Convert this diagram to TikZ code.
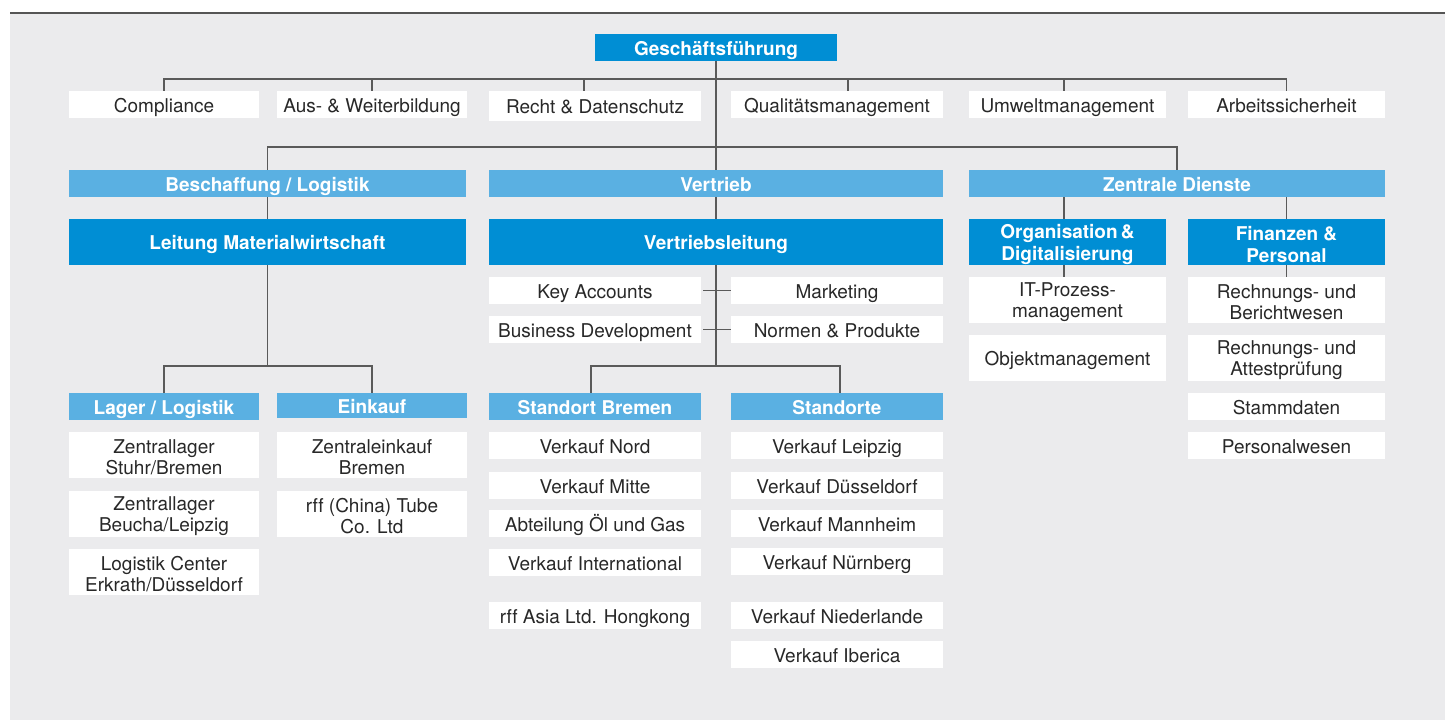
\documentclass[tikz,border=0pt]{standalone}
\usepackage{fontspec}
\setmainfont[Ligatures=NoCommon]{TeX Gyre Heros}
\usetikzlibrary{calc}
\definecolor{bgcol}{RGB}{235,235,237}
\definecolor{rulecol}{RGB}{85,85,85}
\definecolor{linecol}{RGB}{90,90,90}
\definecolor{darkblue}{RGB}{0,142,212}
\definecolor{lightblue}{RGB}{90,176,226}
\definecolor{txtcol}{RGB}{40,40,40}
\pgfdeclarelayer{bglayer}
\pgfdeclarelayer{linelayer}
\pgfsetlayers{bglayer,linelayer,main}
\newcommand\orgbox[7]{%
  \pgfmathsetmacro\mybw{(#4-#2)*0.5}%
  \pgfmathsetmacro\mybh{(#5-#3)*0.5}%
  \node[#6, minimum width=\mybw pt, minimum height=\mybh pt] (#1) at ({(#2+#4)/2},{(#3+#5)/2}) {#7};}
\newcommand\firststrut{\rule{0pt}{9.3pt}}
\begin{document}
\begin{tikzpicture}[x=0.5pt,y=-0.5pt,
  base/.style={inner sep=0pt, outer sep=0pt, align=center},
  wbox1/.style={base, fill=white, text=txtcol, font=\fontsize{9.5}{10.5}\selectfont, text height=7.5pt, text depth=0pt},
  wbox2/.style={base, fill=white, text=txtcol, font=\fontsize{9.5}{10.5}\selectfont},
  lbox1/.style={base, fill=lightblue, text=white, font=\fontsize{9.5}{11}\selectfont\bfseries, text height=7.5pt, text depth=0pt},
  dbox1/.style={base, fill=darkblue, text=white, font=\fontsize{9.5}{11}\selectfont\bfseries, text height=7.5pt, text depth=0pt},
  dbox2/.style={base, fill=darkblue, text=white, font=\fontsize{9.5}{11}\selectfont\bfseries},
  conn/.style={draw=linecol, line width=0.6pt}]
\useasboundingbox (0,0) rectangle (1445,720);
\begin{pgfonlayer}{bglayer}
  \fill[bgcol] (10,13) rectangle (1445,720);
  \draw[rulecol, line width=1pt] (10,13) -- (1445,13);
\end{pgfonlayer}
% top and staff
\orgbox{gf}{595}{34}{837}{61}{dbox1}{Geschäftsführung}
\orgbox{comp}{69}{91}{259}{118}{wbox1}{Compliance}
\orgbox{aus}{277}{91}{467}{118}{wbox1}{Aus- \& Weiterbildung}
\orgbox{recht}{489}{91}{701}{121}{wbox1}{Recht \& Datenschutz}
\orgbox{qual}{731}{91}{943}{118}{wbox1}{Qualitätsmanagement}
\orgbox{umw}{969}{91}{1166}{118}{wbox1}{Umweltmanagement}
\orgbox{arb}{1188}{91}{1385}{118}{wbox1}{Arbeitssicherheit}
% columns
\orgbox{bes}{69}{170}{466}{197}{lbox1}{Beschaffung / Logistik}
\orgbox{vt}{489}{170}{943}{197}{lbox1}{Vertrieb}
\orgbox{zd}{969}{170}{1385}{197}{lbox1}{Zentrale Dienste}
\orgbox{lm}{69}{219}{466}{265}{dbox1}{Leitung Materialwirtschaft}
\orgbox{vl}{489}{219}{943}{265}{dbox1}{Vertriebsleitung}
\orgbox{org}{969}{219}{1166}{265}{dbox2}{\firststrut Organisation\,\&\\Digitalisierung}
\orgbox{fin}{1188}{219}{1385}{265}{dbox2}{\firststrut Finanzen \&\\Personal}
% Beschaffung
\orgbox{lag}{69}{393}{259}{420}{lbox1}{Lager / Logistik}
\orgbox{ein}{277}{393}{467}{418}{lbox1}{Einkauf}
\orgbox{zl1}{69}{432}{259}{478}{wbox2}{\firststrut Zentrallager\\Stuhr/Bremen}
\orgbox{zl2}{69}{491}{259}{537}{wbox2}{\firststrut Zentrallager\\Beucha/Leipzig}
\orgbox{lc}{69}{549}{259}{595}{wbox2}{\firststrut Logistik Center\\Erkrath/Düsseldorf}
\orgbox{ze}{277}{432}{467}{478}{wbox2}{\firststrut Zentraleinkauf\\Bremen}
\orgbox{rc}{277}{491}{467}{537}{wbox2}{\firststrut rff (China) Tube\\Co. Ltd}
% Vertrieb
\orgbox{ka}{489}{277}{701}{304}{wbox1}{Key Accounts}
\orgbox{mk}{731}{277}{943}{304}{wbox1}{Marketing}
\orgbox{bd}{489}{316}{701}{343}{wbox1}{Business Development}
\orgbox{np}{731}{316}{943}{343}{wbox1}{Normen \& Produkte}
\orgbox{sb}{489}{393}{701}{420}{lbox1}{Standort Bremen}
\orgbox{so}{731}{393}{943}{420}{lbox1}{Standorte}
\orgbox{vn}{489}{432}{701}{459}{wbox1}{Verkauf Nord}
\orgbox{vm}{489}{472}{701}{499}{wbox1}{Verkauf Mitte}
\orgbox{ab}{489}{510}{701}{537}{wbox1}{Abteilung Öl und Gas}
\orgbox{vi}{489}{549}{701}{576}{wbox1}{Verkauf International}
\orgbox{ra}{489}{602}{701}{629}{wbox1}{rff Asia Ltd. Hongkong}
\orgbox{vle}{731}{432}{943}{459}{wbox1}{Verkauf Leipzig}
\orgbox{vd}{731}{472}{943}{499}{wbox1}{Verkauf Düsseldorf}
\orgbox{vma}{731}{510}{943}{537}{wbox1}{Verkauf Mannheim}
\orgbox{vnu}{731}{548}{943}{575}{wbox1}{Verkauf Nürnberg}
\orgbox{vni}{731}{602}{943}{629}{wbox1}{Verkauf Niederlande}
\orgbox{vib}{731}{641}{943}{668}{wbox1}{Verkauf Iberica}
% Zentrale Dienste
\orgbox{it}{969}{277}{1166}{323}{wbox2}{\firststrut IT-Prozess-\\management}
\orgbox{obj}{969}{335}{1166}{381}{wbox1}{Objektmanagement}
\orgbox{rb}{1188}{277}{1385}{323}{wbox2}{\firststrut Rechnungs- und\\Berichtwesen}
\orgbox{ra2}{1188}{335}{1385}{381}{wbox2}{\firststrut Rechnungs- und\\Attestprüfung}
\orgbox{sd}{1188}{393}{1385}{420}{wbox1}{Stammdaten}
\orgbox{pw}{1188}{432}{1385}{459}{wbox1}{Personalwesen}
% helper coordinates
\coordinate (h1) at (716,79);
\coordinate (h2) at (716,147);
\coordinate (h3) at (268,366);
\coordinate (h4) at (716,366);
\coordinate (rt) at ([xshift=-5.5pt]recht.north);
\coordinate (qt) at ([xshift=5.5pt]qual.north);
\coordinate (ut) at ([xshift=-1.75pt]umw.north);
\coordinate (ot) at ([xshift=-1.75pt]org.north);
\coordinate (ob) at ([xshift=-1.75pt]org.south);
\coordinate (itt) at ([xshift=-1.75pt]it.north);
\coordinate (sbt) at ([xshift=-2pt]sb.north);
\coordinate (sot) at ([xshift=1.5pt]so.north);
\begin{pgfonlayer}{linelayer}
  \draw[conn] (gf.south) -- (vl.north);
  \draw[conn] (vl.south) -- (h4);
  \draw[conn] (comp.north) -- (comp.north |- h1) -- (arb.north |- h1) -- (arb.north);
  \draw[conn] (aus.north) -- (aus.north |- h1);
  \draw[conn] (rt) -- (rt |- h1);
  \draw[conn] (qt) -- (qt |- h1);
  \draw[conn] (ut) -- (ut |- h1);
  \draw[conn] (bes.north) -- (bes.north |- h2) -- (zd.north |- h2) -- (zd.north);
  \draw[conn] (bes.south) -- (lm.north);
  \draw[conn] (lm.south) -- (lm.south |- h3);
  \draw[conn] (lag.north) -- (lag.north |- h3) -- (ein.north |- h3) -- (ein.north);
  \draw[conn] (ot) -- (ot |- zd.south);
  \draw[conn] (fin.north) -- (fin.north |- zd.south);
  \draw[conn] (ob) -- (itt);
  \draw[conn] (fin.south) -- (rb.north);
  \draw[conn] ([xshift=1pt]ka.east) -- (mk.west);
  \draw[conn] ([xshift=1pt]bd.east) -- (np.west);
  \draw[conn] (sbt) -- (sbt |- h4) -- (sot |- h4) -- (sot);
\end{pgfonlayer}
\end{tikzpicture}
\end{document}
